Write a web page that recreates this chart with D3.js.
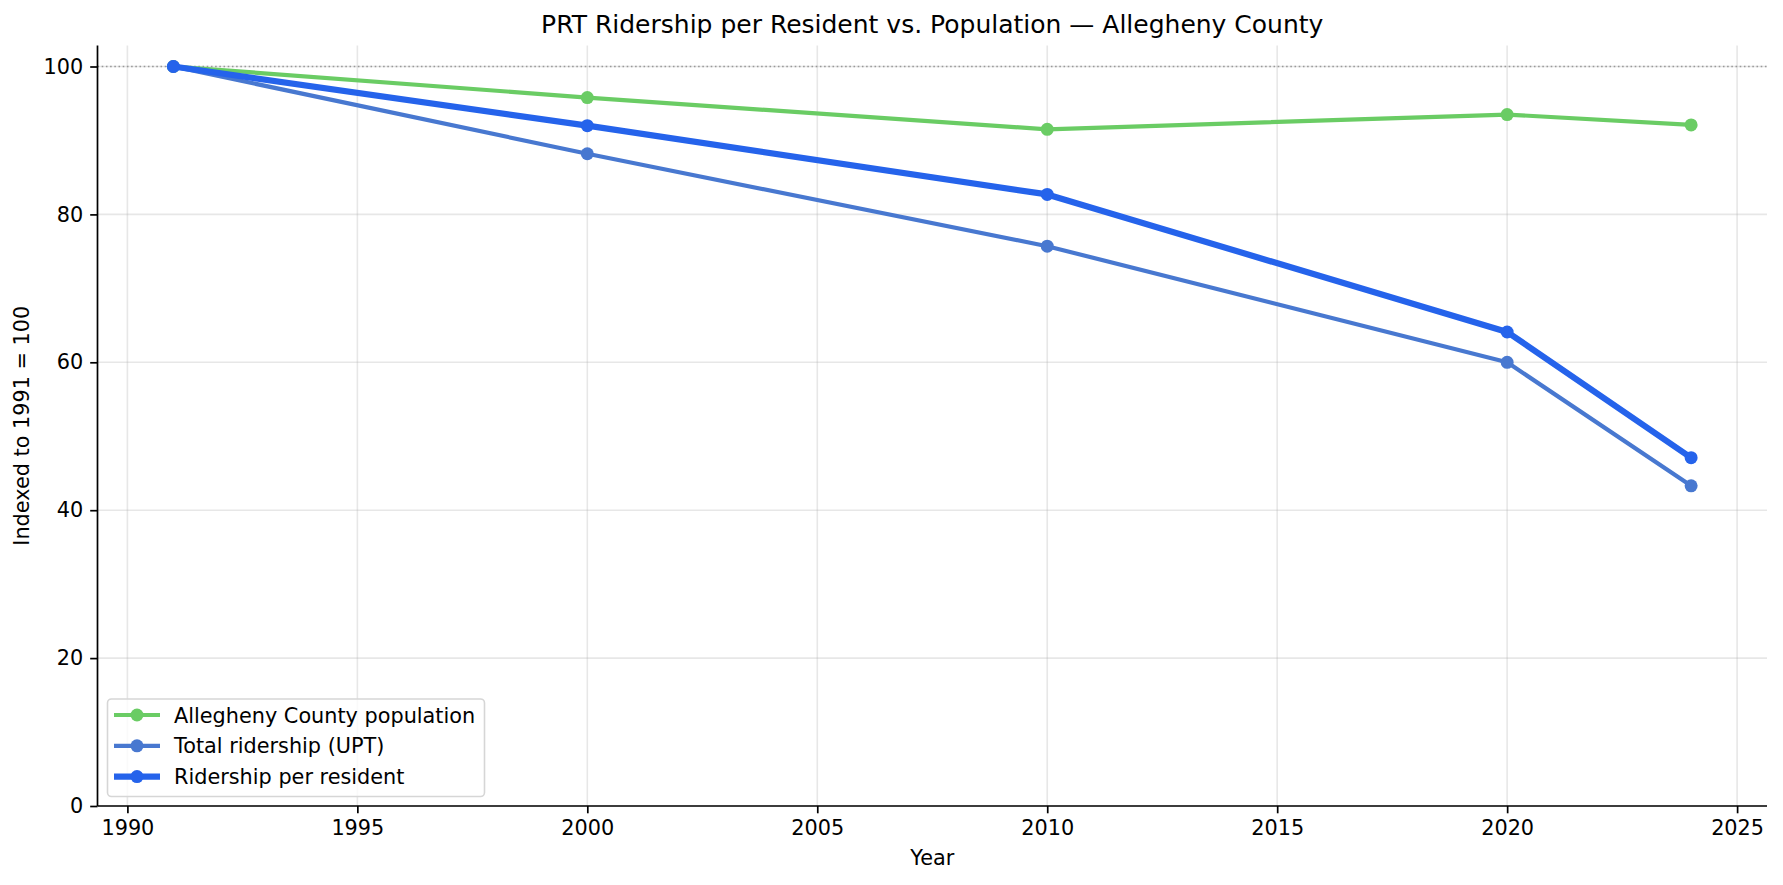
<!DOCTYPE html>
<html>
<head>
<meta charset="utf-8">
<script src="https://cdn.jsdelivr.net/npm/d3@7"></script>
<style>
  body { margin: 0; background: #fff; }
  text { font-family: "DejaVu Sans", sans-serif; }
</style>
</head>
<body>
<script>
// data (index, 1991 = 100)
var years = [1991, 2000, 2010, 2020, 2024];
var population = [100, 95.8, 91.5, 93.5, 92.1];
var ridership = [100, 88.2, 75.7, 60.0, 43.3];
var perResident = [100, 92.0, 82.7, 64.1, 47.1];
var seriesNames = ["Allegheny County population", "Total ridership (UPT)", "Ridership per resident"];
var xTicks = [1990, 1995, 2000, 2005, 2010, 2015, 2020, 2025];
var yTicks = [0, 20, 40, 60, 80, 100];

var w = 1783, h = 885;
var padL = 97.5, padR = 1767, padT = 45.5, padB = 806; // plot area edges
var fs = "20.8px";

var svg = d3.select("body").append("svg").attr("width", w).attr("height", h);

var xScale = d3.scaleLinear().domain([1989.35, 2025.65]).range([padL, padR]);
var yScale = d3.scaleLinear().domain([0, 102.84]).range([padB, padT]);

// grid
svg.append("g").selectAll("line").data(xTicks).enter().append("line")
  .attr("x1", d => xScale(d)).attr("x2", d => xScale(d))
  .attr("y1", padT).attr("y2", padB)
  .attr("stroke", "#b0b0b0").attr("stroke-opacity", 0.3).attr("stroke-width", 1.6);
svg.append("g").selectAll("line").data(yTicks).enter().append("line")
  .attr("x1", padL).attr("x2", padR)
  .attr("y1", d => yScale(d)).attr("y2", d => yScale(d))
  .attr("stroke", "#b0b0b0").attr("stroke-opacity", 0.3).attr("stroke-width", 1.6);

// reference line at 100
svg.append("line")
  .attr("x1", padL).attr("x2", padR)
  .attr("y1", yScale(100)).attr("y2", yScale(100))
  .attr("stroke", "#999").attr("stroke-width", 1.6).attr("stroke-dasharray", "1.6,2.6");

var series = [
  { name: seriesNames[0], values: population, color: "#6acc64", lw: 4.2 },
  { name: seriesNames[1], values: ridership, color: "#4878d0", lw: 4.2 },
  { name: seriesNames[2], values: perResident, color: "#2563eb", lw: 6.2 }
];

var line = d3.line().x((d, i) => xScale(years[i])).y(d => yScale(d));

series.forEach(function (s) {
  var g = svg.append("g");
  g.append("path").datum(s.values)
    .attr("d", line).attr("fill", "none")
    .attr("stroke", s.color).attr("stroke-width", s.lw)
    .attr("stroke-linejoin", "round").attr("stroke-linecap", "butt");
  g.selectAll("circle").data(s.values).enter().append("circle")
    .attr("cx", (d, i) => xScale(years[i]))
    .attr("cy", d => yScale(d))
    .attr("r", 6.5)
    .attr("fill", s.color);
});

// axes
var xAxis = d3.axisBottom(xScale).tickValues(xTicks).tickFormat(d3.format("d")).tickSize(7.3).tickPadding(7);
var gx = svg.append("g").attr("transform", "translate(0," + padB + ")").call(xAxis);
var yAxis = d3.axisLeft(yScale).tickValues(yTicks).tickSize(7.3).tickPadding(7);
var gy = svg.append("g").attr("transform", "translate(" + padL + ",0)").call(yAxis);

gx.select(".domain").attr("d", "M" + padL + ",0H" + padR).attr("stroke-width", 1.7).attr("stroke", "#000");
gy.select(".domain").attr("d", "M0," + padT + "V" + padB).attr("stroke-width", 1.7).attr("stroke", "#000");
[gx, gy].forEach(function (g) {
  g.selectAll(".tick line").attr("stroke", "#000").attr("stroke-width", 1.7);
  g.selectAll(".tick text").attr("fill", "#000").style("font-size", fs).style("font-family", "DejaVu Sans");
});

// titles
svg.append("text").attr("x", (padL + padR) / 2).attr("y", 33)
  .attr("text-anchor", "middle").style("font-size", "25px")
  .text("PRT Ridership per Resident vs. Population \u2014 Allegheny County");
svg.append("text").attr("x", (padL + padR) / 2).attr("y", 865)
  .attr("text-anchor", "middle").style("font-size", fs).text("Year");
svg.append("text").attr("transform", "translate(29," + (padT + padB) / 2 + ") rotate(-90)")
  .attr("text-anchor", "middle").style("font-size", fs).text("Indexed to 1991 = 100");

// legend
var lg = svg.append("g");
lg.append("rect").attr("x", 107.5).attr("y", 699).attr("width", 377).attr("height", 97.5)
  .attr("rx", 4).attr("fill", "#fff").attr("fill-opacity", 0.8)
  .attr("stroke", "#d6d6d6").attr("stroke-width", 1.6);
series.forEach(function (s, i) {
  var yy = 715 + i * 30.8;
  lg.append("line").attr("x1", 114).attr("x2", 160).attr("y1", yy).attr("y2", yy)
    .attr("stroke", s.color).attr("stroke-width", s.lw);
  lg.append("circle").attr("cx", 137).attr("cy", yy).attr("r", 6.5).attr("fill", s.color);
  lg.append("text").attr("x", 174).attr("y", yy + 7.5).style("font-size", fs).text(s.name);
});
</script>
</body>
</html>
